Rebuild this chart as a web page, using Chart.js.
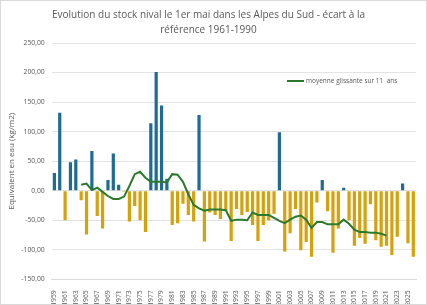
<!DOCTYPE html>
<html>
<head>
<meta charset="utf-8">
<script src="https://cdn.jsdelivr.net/npm/chart.js@4.4.1/dist/chart.umd.min.js"></script>
<style>
  html, body { margin: 0; padding: 0; background: #fff; }
  #wrap { position: relative; width: 427px; height: 305px; box-sizing: border-box; border: 1px solid #d9d9d9; }
  canvas { display: block; }
</style>
</head>
<body>
<div id="wrap"><canvas id="chart" width="425" height="303"></canvas></div>
<script>
// years 1959 -> 2026
const years = [];
for (let y = 1959; y <= 2026; y++) years.push(String(y));

// écart au 1er mai (kg/m2)
const ecart = [
  30, 132, -50, 48, 53, -16, -74, 67, -43, -64,
  18, 63, 10, -2, -52, -26, -50, -70, 114, 201,
  144, 20, -58, -55, -22, -41, -52, 128, -86, -37,
  -41, -48, -33, -85, -31, -41, -36, -58, -85, -58,
  -50, -39, 99, -103, -72, -31, -101, -87, -112, -20,
  18, -35, -105, -64, 5, -50, -93, -80, -90, -23,
  -84, -95, -93, -109, -78, 12, -89, -112
];

// moyenne glissante sur 11 ans (centered)
const moyenne = [
  null, null, null, null, null, 10, 12, 1, 5, -2,
  -9, -14, -14, -10, 8, 28, 32, 22, 15, 15,
  15, 14, 28, 27, 15, -6, -24, -30, -34, -32,
  -32, -32, -33, -51, -49, -49, -50, -37, -41, -41,
  -41, -46, -51, -55, -49, -44, -42, -49, -63, -53,
  -53, -57, -57, -57, -49, -56, -66, -70, -70, -71,
  -71, -73, -76, null, null, null, null, null
];

const yTicks = [-150, -100, -50, 0, 50, 100, 150, 200, 250];

const BLUE = '#1f6b93';
const GOLD = '#d5a20b';
const GREEN = '#2b7a2b';
const TXT = '#595959';
const FONT = "'Open Sans', 'Noto Sans', sans-serif";

// legend drawn inside the plot area, top right
const innerLegend = {
  id: 'innerLegend',
  afterDraw(chart) {
    const ctx = chart.ctx;
    const x0 = 286, y0 = 80;
    ctx.save();
    ctx.strokeStyle = GREEN;
    ctx.lineWidth = 2;
    ctx.beginPath();
    ctx.moveTo(x0, y0);
    ctx.lineTo(x0 + 17, y0);
    ctx.stroke();
    ctx.fillStyle = TXT;
    ctx.font = "6.5px " + FONT;
    ctx.textBaseline = 'middle';
    ctx.fillText('moyenne glissante sur 11  ans', x0 + 19, y0);
    ctx.restore();
  }
};

new Chart(document.getElementById('chart'), {
  data: {
    labels: years,
    datasets: [
      {
        type: 'line',
        label: 'moyenne glissante sur 11  ans',
        data: moyenne,
        borderColor: GREEN,
        borderWidth: 2,
        pointRadius: 0,
        fill: false,
        tension: 0,
        spanGaps: false,
        order: 0
      },
      {
        type: 'bar',
        label: 'écart',
        data: ecart,
        backgroundColor: ctx => (ctx.raw >= 0 ? BLUE : GOLD),
        categoryPercentage: 1,
        barPercentage: 0.6,
        order: 1
      }
    ]
  },
  options: {
    responsive: false,
    animation: false,
    layout: { padding: { left: 0, right: 10, top: 0, bottom: 0 } },
    plugins: {
      legend: { display: false },
      tooltip: { enabled: false },
      title: {
        display: true,
        text: ['Evolution du stock nival le 1er mai dans les Alpes du Sud - écart à la', 'référence 1961-1990'],
        color: TXT,
        font: { family: FONT, size: 10, weight: 'normal', lineHeight: 1.5 },
        padding: { top: 6.5, bottom: 5.5 }
      }
    },
    scales: {
      x: {
        grid: { display: false },
        border: { display: true, color: '#d9d9d9' },
        ticks: {
          autoSkip: false,
          minRotation: 90,
          maxRotation: 90,
          padding: 3,
          color: TXT,
          font: { family: FONT, size: 6.8 },
          callback: function (v, i) { return i % 2 === 0 ? this.getLabelForValue(v) : ''; }
        },
        afterFit: s => { s.height = 24.7; }
      },
      y: {
        min: -150,
        max: 250,
        afterBuildTicks: s => { s.ticks = yTicks.map(v => ({ value: v })); },
        grid: { color: '#e3e3e3', drawTicks: false },
        border: { display: false },
        ticks: {
          padding: 7,
          color: TXT,
          font: { family: FONT, size: 6.8 },
          callback: v => v.toFixed(2).replace('.', ',')
        },
        title: {
          display: true,
          text: 'Equivalent en eau (kg/m2)',
          color: TXT,
          font: { family: FONT, size: 8 },
          padding: { top: 6, bottom: 0 }
        },
        afterFit: s => { s.width = 50.7; }
      }
    }
  },
  plugins: [innerLegend]
});
</script>
</body>
</html>
